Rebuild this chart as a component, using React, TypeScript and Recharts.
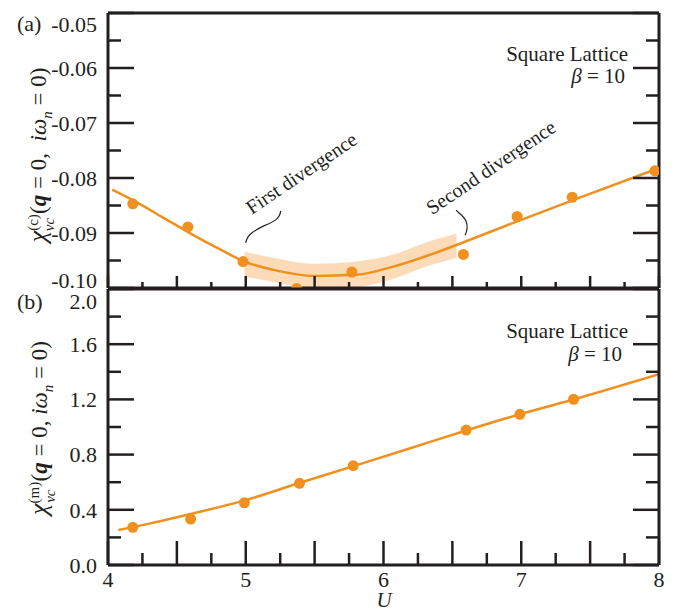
import React from "react";
import { Area, ComposedChart, Line, ReferenceDot, Scatter, XAxis, YAxis } from "recharts";

const ORANGE = "#F0901E";
const BAND = "#FCDCB8";
const INK = "#231f20";
const FONT = "'Liberation Serif', 'Times New Roman', serif";

// charge channel, panel (a)
const chargeU = [4.18, 4.58, 4.98, 5.37, 5.77, 6.58, 6.97, 7.37, 7.97];
const chargeChi = [-0.0847, -0.0889, -0.0952, -0.1001, -0.0971, -0.0939, -0.087, -0.0835, -0.0787];
const chargeFitU = [4.03, 4.2, 4.4, 4.6, 4.8, 5.0, 5.2, 5.5, 5.8, 6.1, 6.4, 6.6, 7.0, 7.4, 8.0];
const chargeFit = [
  -0.0821, -0.0843, -0.0872, -0.0901, -0.0928, -0.0953, -0.0967, -0.0978, -0.0976, -0.0959, -0.0934,
  -0.0915, -0.0876, -0.0838, -0.0782,
];
const bandU = [4.99, 5.2, 5.5, 5.8, 6.1, 6.3, 6.53];
const bandLow = [-0.0979, -0.0989, -0.1, -0.0998, -0.0981, -0.0962, -0.0945];
const bandHigh = [-0.0934, -0.0945, -0.0956, -0.0952, -0.0937, -0.0918, -0.0901];

// magnetic channel, panel (b)
const spinU = [4.18, 4.6, 4.99, 5.39, 5.78, 6.6, 6.99, 7.38];
const spinChi = [0.273, 0.333, 0.451, 0.592, 0.72, 0.978, 1.092, 1.201];
const spinFitU = [4.075, 4.3, 4.6, 5.0, 5.4, 5.8, 6.2, 6.6, 7.0, 7.4, 8.0];
const spinFit = [0.254, 0.3, 0.37, 0.47, 0.598, 0.722, 0.848, 0.975, 1.095, 1.205, 1.382];

const uTicks = [4, 4.25, 4.5, 4.75, 5, 5.25, 5.5, 5.75, 6, 6.25, 6.5, 6.75, 7, 7.25, 7.5, 7.75, 8];
const chargeTicks = [-0.1, -0.095, -0.09, -0.085, -0.08, -0.075, -0.07, -0.065, -0.06, -0.055, -0.05];
const spinTicks = [0, 0.2, 0.4, 0.6, 0.8, 1.0, 1.2, 1.4, 1.6, 1.8, 2.0];

const chargePts = chargeU.map((u, i) => ({ u, chi: chargeChi[i] }));
const chargeCurve = chargeFitU.map((u, i) => ({ u, chi: chargeFit[i] }));
const chargeBand = bandU.map((u, i) => ({ u, band: [bandLow[i], bandHigh[i]] }));
const spinPts = spinU.map((u, i) => ({ u, chi: spinChi[i] }));
const spinCurve = spinFitU.map((u, i) => ({ u, chi: spinFit[i] }));

const onStep = (v: number, step: number) => Math.abs(v / step - Math.round(v / step)) < 1e-6;

const labelStyle = { fontFamily: FONT, fontSize: 22, fill: INK };

// inward ticks on horizontal axes; long every 0.5, short every 0.25
function xTick(dir: 1 | -1, len: number, labels: boolean) {
  return (p: any) => {
    const v = p.payload.value;
    const l = onStep(v, 0.5) ? len : len / 2;
    return (
      <g>
        <line x1={p.x} x2={p.x} y1={p.y} y2={p.y + dir * l} stroke={INK} strokeWidth={2.5} />
        {labels && onStep(v, 1) && (
          <text x={p.x} y={p.y + 22} textAnchor="middle" {...labelStyle}>
            {v}
          </text>
        )}
      </g>
    );
  };
}

function yTick(dir: 1 | -1, step: number, fmt?: (v: number) => string, nudge?: (v: number) => number) {
  return (p: any) => {
    const v = p.payload.value;
    const major = onStep(v, step);
    const l = major ? 26 : 13;
    return (
      <g>
        <line x1={p.x} x2={p.x + dir * l} y1={p.y} y2={p.y} stroke={INK} strokeWidth={2.5} />
        {fmt && major && (
          <text x={p.x - 11} y={p.y + (nudge ? nudge(v) : 0)} dy="0.35em" textAnchor="end" {...labelStyle}>
            {fmt(v)}
          </text>
        )}
      </g>
    );
  };
}

const axisLine = { stroke: INK, strokeWidth: 3 };

const firstNote = (p: any) => (
  <g transform={`translate(${p.cx},${p.cy})`}>
    <path d="M0,0 C1,-8 8,-12 18,-17 C28,-21 34,-24 35,-32" fill="none" stroke={INK} strokeWidth={1.2} />
    <text transform="translate(6,-28) rotate(-34)" fontFamily={FONT} fontSize={20} fill={INK}>
      First divergence
    </text>
  </g>
);

const secondNote = (p: any) => (
  <g transform={`translate(${p.cx},${p.cy})`}>
    <path d="M0,0 C2,-4 3,-9 1,-14 C-1,-19 -6,-22 -9,-25" fill="none" stroke={INK} strokeWidth={1.2} />
    <text transform="translate(-33,-20) rotate(-34)" fontFamily={FONT} fontSize={20} fill={INK}>
      Second divergence
    </text>
  </g>
);

const dotShape = (p: any) => <circle cx={p.cx} cy={p.cy} r={5.5} fill={ORANGE} />;

function ChargePanel() {
  return (
    <ComposedChart width={683} height={300} margin={{ top: 0, right: 0, bottom: 0, left: 0 }}>
      <XAxis
        type="number"
        dataKey="u"
        domain={[4, 8]}
        ticks={uTicks}
        interval={0}
        tickSize={0}
        tickMargin={0}
        height={12}
        axisLine={axisLine}
        tick={xTick(-1, 12, false)}
        allowDataOverflow
      />
      <XAxis
        xAxisId="top"
        orientation="top"
        type="number"
        domain={[4, 8]}
        ticks={uTicks}
        interval={0}
        tickSize={0}
        tickMargin={0}
        height={13}
        axisLine={axisLine}
        tick={xTick(1, 25, false)}
        allowDataOverflow
      />
      <YAxis
        type="number"
        dataKey="chi"
        domain={[-0.1, -0.05]}
        ticks={chargeTicks}
        interval={0}
        tickSize={0}
        tickMargin={0}
        width={108}
        axisLine={axisLine}
        tick={yTick(1, 0.01, (v) => v.toFixed(2), (v) => (v > -0.051 ? 11 : v < -0.099 ? -8 : 0))}
        allowDataOverflow
      />
      <YAxis
        yAxisId="right"
        orientation="right"
        type="number"
        domain={[-0.1, -0.05]}
        ticks={chargeTicks}
        interval={0}
        tickSize={0}
        tickMargin={0}
        width={24}
        axisLine={axisLine}
        tick={yTick(-1, 0.01)}
        allowDataOverflow
      />
      <Area
        data={chargeBand}
        dataKey="band"
        type="monotone"
        fill={BAND}
        fillOpacity={1}
        stroke="none"
        isAnimationActive={false}
      />
      <Line
        data={chargeCurve}
        dataKey="chi"
        type="monotone"
        stroke={ORANGE}
        strokeWidth={2.5}
        dot={false}
        isAnimationActive={false}
      />
      <Scatter data={chargePts} dataKey="chi" shape={dotShape} isAnimationActive={false} />
      <ReferenceDot x={5.0} y={-0.0918} r={1} shape={firstNote} ifOverflow="visible" />
      <ReferenceDot x={6.592} y={-0.0904} r={1} shape={secondNote} ifOverflow="visible" />
    </ComposedChart>
  );
}

function SpinPanel() {
  return (
    <ComposedChart width={683} height={334} margin={{ top: 0, right: 0, bottom: 0, left: 0 }}>
      <XAxis
        type="number"
        dataKey="u"
        domain={[4, 8]}
        ticks={uTicks}
        interval={0}
        tickSize={0}
        tickMargin={0}
        height={49}
        axisLine={axisLine}
        tick={xTick(-1, 24, true)}
        allowDataOverflow
      />
      <XAxis
        xAxisId="top"
        orientation="top"
        type="number"
        domain={[4, 8]}
        ticks={uTicks}
        interval={0}
        tickSize={0}
        tickMargin={0}
        height={9}
        axisLine={axisLine}
        tick={xTick(1, 12, false)}
        allowDataOverflow
      />
      <YAxis
        type="number"
        dataKey="chi"
        domain={[0, 2]}
        ticks={spinTicks}
        interval={0}
        tickSize={0}
        tickMargin={0}
        width={108}
        axisLine={axisLine}
        tick={yTick(1, 0.4, (v) => v.toFixed(1), (v) => (v > 1.99 ? 12 : 0))}
        allowDataOverflow
      />
      <YAxis
        yAxisId="right"
        orientation="right"
        type="number"
        domain={[0, 2]}
        ticks={spinTicks}
        interval={0}
        tickSize={0}
        tickMargin={0}
        width={24}
        axisLine={axisLine}
        tick={yTick(-1, 0.4)}
        allowDataOverflow
      />
      <Line
        data={spinCurve}
        dataKey="chi"
        type="monotone"
        stroke={ORANGE}
        strokeWidth={2.5}
        dot={false}
        isAnimationActive={false}
      />
      <Scatter data={spinPts} dataKey="chi" shape={dotShape} isAnimationActive={false} />
    </ComposedChart>
  );
}

function YTitle({ x, y, sup }: { x: number; y: number; sup: string }) {
  const supW = sup === "(m)" ? 21 : 17;
  return (
    <text
      transform={`rotate(-90 ${x} ${y})`}
      x={x}
      y={y}
      textAnchor="middle"
      fontFamily={FONT}
      fontSize={23}
      fill={INK}
      style={{ whiteSpace: "pre" }}
    >
      <tspan fontStyle="italic" fontSize={26}>
        χ
      </tspan>
      <tspan fontSize={15} dy={-8}>
        {sup}
      </tspan>
      <tspan fontSize={15} fontStyle="italic" dx={-supW} dy={16}>
        vc
      </tspan>
      <tspan dx={supW - 13} dy={-8}>
        (
      </tspan>
      <tspan fontWeight="bold" fontStyle="italic">
        q
      </tspan>
      <tspan>{sup === "(c)" ? " = 0,  " : " = 0, "}</tspan>
      <tspan fontStyle="italic">iω</tspan>
      <tspan fontStyle="italic" fontSize={15} dy={6}>
        n
      </tspan>
      <tspan dy={-6}> = 0)</tspan>
    </text>
  );
}

export default function App() {
  const txt = { fontFamily: FONT, fill: INK };
  return (
    <div style={{ position: "absolute", left: 0, top: 0, width: 683, height: 614, background: "#fff" }}>
      <div style={{ position: "absolute", left: 0, top: 0 }}>
        <ChargePanel />
      </div>
      <div style={{ position: "absolute", left: 0, top: 280 }}>
        <SpinPanel />
      </div>
      <svg
        width={683}
        height={614}
        style={{ position: "absolute", left: 0, top: 0, pointerEvents: "none" }}
      >
        <text x={17} y={31} fontSize={22} {...txt}>
          (a)
        </text>
        <text x={17} y={309} fontSize={22} {...txt}>
          (b)
        </text>
        <YTitle x={46} y={155} sup="(c)" />
        <YTitle x={47} y={428} sup="(m)" />
        <text x={628} y={61} textAnchor="end" fontSize={21} {...txt}>
          Square Lattice
        </text>
        <text x={625} y={83} textAnchor="end" fontSize={21} {...txt}>
          <tspan fontStyle="italic">β</tspan> = 10
        </text>
        <text x={628} y={338} textAnchor="end" fontSize={21} {...txt}>
          Square Lattice
        </text>
        <text x={622} y={361} textAnchor="end" fontSize={21} {...txt}>
          <tspan fontStyle="italic">β</tspan> = 10
        </text>
        <text x={384} y={607} textAnchor="middle" fontSize={21} fontStyle="italic" {...txt}>
          U
        </text>
      </svg>
    </div>
  );
}
